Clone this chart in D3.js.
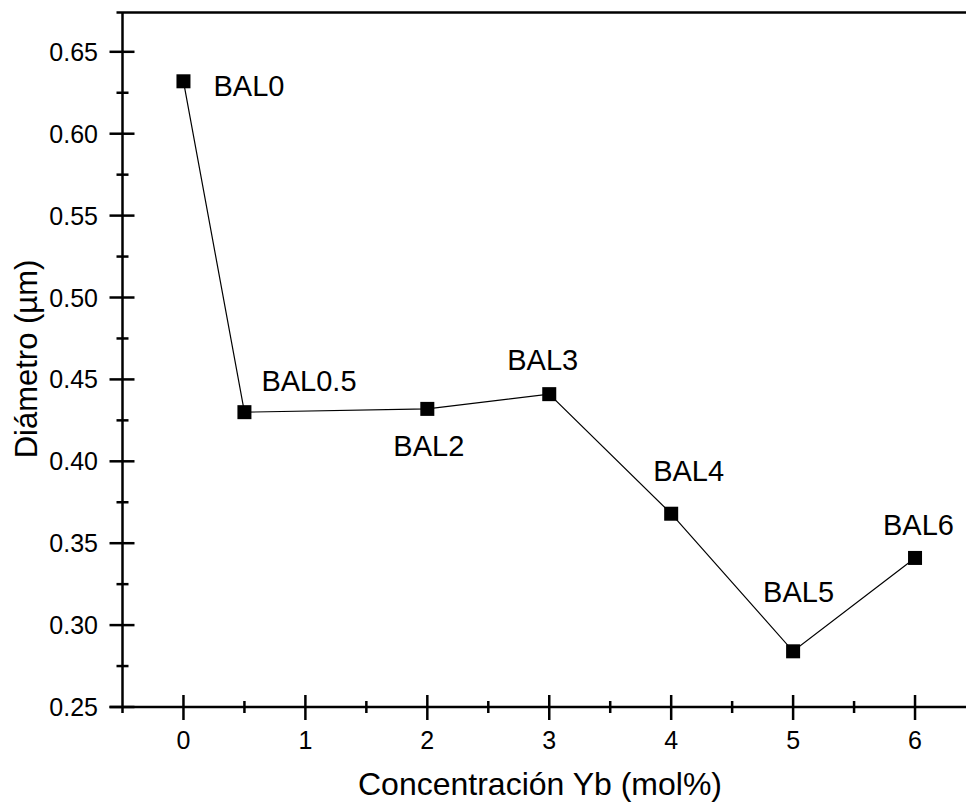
<!DOCTYPE html>
<html>
<head>
    <meta charset="utf-8">
    <title>Diámetro vs Concentración Yb</title>
    <script src="https://cdnjs.cloudflare.com/ajax/libs/d3/7.8.5/d3.min.js"></script>
    <style>
        body {
            margin: 0;
            background: white;
            font-family: "Liberation Sans", Arial, sans-serif;
        }
        svg { display: block; }
    </style>
</head>
<body>
    <div id="chart"></div>

    <script>
        // Data
        const samples = ["BAL0", "BAL0.5", "BAL2", "BAL3", "BAL4", "BAL5", "BAL6"];
        const concentration = [0, 0.5, 2, 3, 4, 5, 6];
        const diameter = [0.632, 0.430, 0.432, 0.441, 0.368, 0.284, 0.341];

        const yTicks = [0.25, 0.30, 0.35, 0.40, 0.45, 0.50, 0.55, 0.60, 0.65];
        const xTicks = [0, 1, 2, 3, 4, 5, 6];

        // label placement relative to each marker (px)
        const labelOffsets = [[30, 15], [17, -21], [-34, 47], [-42, -24], [-18, -33], [-30, -49], [-32, -23]];

        const W = 966, H = 805;

        const svg = d3.select("#chart")
            .append("svg")
            .attr("width", W)
            .attr("height", H);

        const x = d3.scaleLinear()
            .domain([-0.5, 6.5])
            .range([122.5, 976]);

        const y = d3.scaleLinear()
            .domain([0.25, 0.674])
            .range([707, 12.5]);

        const data = samples.map((s, i) => ({name: s, x: concentration[i], y: diameter[i]}));

        // Frame: top line
        svg.append("line")
            .attr("x1", x(-0.5) - 6).attr("x2", W)
            .attr("y1", y.range()[1]).attr("y2", y.range()[1])
            .attr("stroke", "black").attr("stroke-width", 2.5);

        // Y axis
        const yAxis = svg.append("g");
        yAxis.append("line")
            .attr("x1", x(-0.5)).attr("x2", x(-0.5))
            .attr("y1", y.range()[1]).attr("y2", y(0.25) + 6)
            .attr("stroke", "black").attr("stroke-width", 2.5);
        yAxis.selectAll(".major")
            .data(yTicks)
            .enter().append("line")
            .attr("x1", x(-0.5) - 13).attr("x2", x(-0.5) + 12)
            .attr("y1", d => y(d)).attr("y2", d => y(d))
            .attr("stroke", "black").attr("stroke-width", 2.5);
        yAxis.selectAll(".minor")
            .data(yTicks.slice(0, -1).map(d => d + 0.025))
            .enter().append("line")
            .attr("x1", x(-0.5) - 6).attr("x2", x(-0.5) + 6)
            .attr("y1", d => y(d)).attr("y2", d => y(d))
            .attr("stroke", "black").attr("stroke-width", 2.5);
        yAxis.selectAll("text")
            .data(yTicks)
            .enter().append("text")
            .attr("x", 98)
            .attr("y", d => y(d))
            .attr("dy", "0.36em")
            .attr("text-anchor", "end")
            .attr("font-size", 25)
            .text(d => d.toFixed(2));

        // X axis
        const xAxis = svg.append("g");
        xAxis.append("line")
            .attr("x1", x(-0.5) - 13).attr("x2", W)
            .attr("y1", y(0.25)).attr("y2", y(0.25))
            .attr("stroke", "black").attr("stroke-width", 2.5);
        xAxis.selectAll(".major")
            .data(xTicks)
            .enter().append("line")
            .attr("x1", d => x(d)).attr("x2", d => x(d))
            .attr("y1", y(0.25) - 12).attr("y2", y(0.25) + 13)
            .attr("stroke", "black").attr("stroke-width", 2.5);
        xAxis.selectAll(".minor")
            .data(xTicks.map(d => d + 0.5))
            .enter().append("line")
            .attr("x1", d => x(d)).attr("x2", d => x(d))
            .attr("y1", y(0.25) - 6).attr("y2", y(0.25) + 6)
            .attr("stroke", "black").attr("stroke-width", 2.5);
        xAxis.selectAll("text")
            .data(xTicks)
            .enter().append("text")
            .attr("x", d => x(d))
            .attr("y", 749)
            .attr("text-anchor", "middle")
            .attr("font-size", 25)
            .text(d => d);

        // Axis titles
        svg.append("text")
            .attr("x", 540)
            .attr("y", 795)
            .attr("text-anchor", "middle")
            .attr("font-size", 32)
            .text("Concentración Yb (mol%)");

        svg.append("text")
            .attr("transform", "translate(37,359) rotate(-90)")
            .attr("text-anchor", "middle")
            .attr("font-size", 31)
            .text("Diámetro (µm)");

        // Line
        const line = d3.line()
            .x(d => x(d.x))
            .y(d => y(d.y));

        svg.append("path")
            .datum(data)
            .attr("d", line)
            .attr("fill", "none")
            .attr("stroke", "black")
            .attr("stroke-width", 1.2);

        // Markers
        const size = 14;
        svg.selectAll(".marker")
            .data(data)
            .enter().append("rect")
            .attr("class", "marker")
            .attr("x", d => x(d.x) - size / 2)
            .attr("y", d => y(d.y) - size / 2)
            .attr("width", size)
            .attr("height", size)
            .attr("fill", "black")
            .attr("stroke", "white")
            .attr("stroke-width", 0);

        // Sample labels
        svg.selectAll(".label")
            .data(data)
            .enter().append("text")
            .attr("class", "label")
            .attr("x", (d, i) => x(d.x) + labelOffsets[i][0])
            .attr("y", (d, i) => y(d.y) + labelOffsets[i][1])
            .attr("font-size", 29)
            .text(d => d.name);
    </script>
</body>
</html>
